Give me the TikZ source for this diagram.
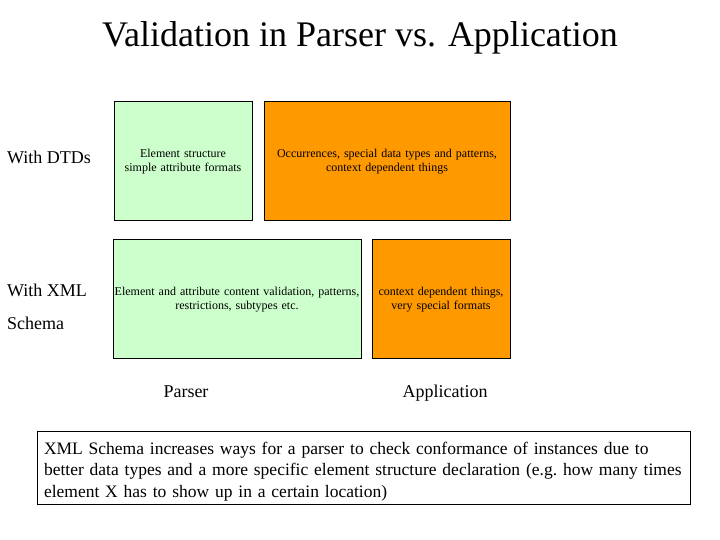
\documentclass[tikz,border=0pt]{standalone}
\usepackage{fontspec}
\setmainfont{Liberation Serif}
\definecolor{parsergreen}{HTML}{CCFFCC}
\definecolor{apporange}{HTML}{FF9900}

\begin{document}
\begin{tikzpicture}
	[x=1pt, y=1pt,
	 cell/.style={draw, line width=1pt, inner sep=1pt, align=center,
	              minimum height=119pt, font=\fontsize{12}{14}\selectfont},
	 parser/.style={cell, fill=parsergreen},
	 app/.style={cell, fill=apporange},
	 rowlabel/.style={anchor=base west, align=left, inner sep=0pt},
	 collabel/.style={anchor=base, inner sep=0pt, font=\fontsize{18}{21}\selectfont}]
	\useasboundingbox (0,0) rectangle (720,540);
	\node[anchor=base, inner sep=0pt] (title) at (360,493)
		{\fontsize{36}{42}\selectfont Validation in Parser vs. Application};
	% with DTDs
	\node[parser, minimum width=138pt, text width=136pt] (dtdparser) at (183,378.5)
		{Element structure\\simple attribute formats};
	\node[app, minimum width=246pt, text width=244pt] (dtdapp) at (387,378.5)
		{Occurrences, special data types and patterns,\\context dependent things};
	% with XML Schema
	\node[parser, minimum width=246pt, text width=246pt] (xsdparser) at (237,240.5)
		{Element and attribute content validation, patterns,\\restrictions, subtypes etc.};
	\node[app, minimum width=138pt, text width=136pt] (xsdapp) at (441,240.5)
		{context dependent things,\\very special formats};
	\node[rowlabel, font=\fontsize{18}{21}\selectfont] (withdtd) at (7,376) {With DTDs};
	\node[rowlabel, font=\fontsize{18}{33}\selectfont] (withxsd) at (7,210) {With XML\\Schema};
	\node[collabel] (parserlbl) at (186,142) {Parser};
	\node[collabel] (applbl) at (445,142) {Application};
	\node[draw, line width=1pt, inner xsep=7pt, align=left, minimum width=653pt,
	      minimum height=73pt, text width=639pt, font=\fontsize{17.5}{21.5}\selectfont]
		(note) at (363.5,71.5)
		{\rule{0pt}{18.5pt}XML Schema increases ways for a parser to check conformance of instances due to\\
		 better data types and a more specific element structure declaration (e.g.\ how many times\\
		 element X has to show up in a certain location)};
\end{tikzpicture}
\end{document}
